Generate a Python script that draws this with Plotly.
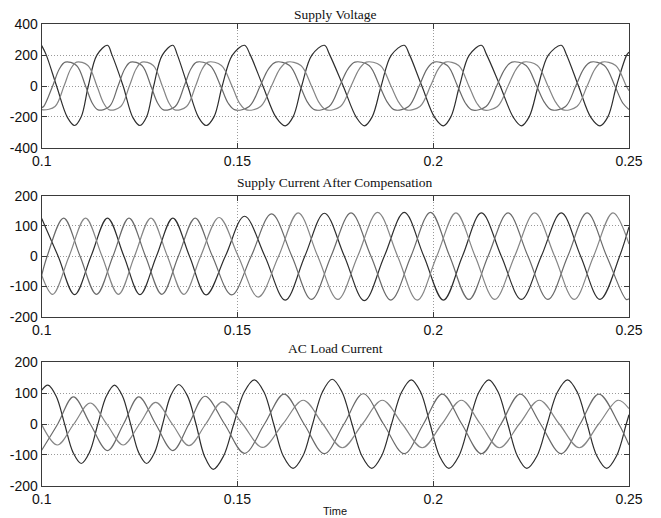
import plotly.graph_objects as go

# ---------------- data (time in ms) ----------------
# Supply voltage, phase drawn dark
t_va = [100.0, 101.1, 103.8, 106.6, 108.4, 110.1, 111.9, 114.1, 116.8, 117.9, 120.8, 123.3, 125.1,
        126.8, 128.6, 130.8, 133.5, 134.6, 137.3, 140.1, 142.0, 144.0, 146.1, 148.7, 151.8, 153.2,
        156.5, 159.9, 162.2, 164.2, 166.4, 169.0, 172.2, 173.5, 177.0, 180.4, 182.4, 184.4, 186.7,
        189.3, 192.6, 193.9, 197.1, 200.4, 202.6, 204.5, 206.7, 209.2, 212.3, 213.6, 217.1, 220.5,
        222.5, 224.5, 226.8, 229.4, 232.7, 234.0, 237.1, 240.3, 242.6, 244.6, 246.8, 249.4, 250.0]
va = [262, 205, 0, -205, -256, -200, 0, 200, 264, 205, 0, -205, -256,
      -200, 0, 200, 264, 205, 0, -205, -256, -200, 0, 200, 264, 205,
      0, -205, -258, -200, 0, 200, 264, 205, 0, -205, -258, -200, 0,
      200, 264, 205, 0, -205, -258, -200, 0, 200, 264, 205, 0, -205,
      -258, -200, 0, 200, 264, 205, 0, -205, -258, -200, 0, 200, 220]

# Supply voltage, first gray phase
t_vb = [100.0, 100.5, 102.8, 104.5, 106.0, 108.9, 111.2, 112.9, 114.4, 117.3, 119.5, 121.2, 122.7,
        125.6, 127.9, 129.6, 131.1, 134.1, 136.4, 138.1, 139.6, 143.0, 145.7, 147.6, 149.4, 153.0,
        155.8, 157.9, 159.8, 163.3, 166.0, 168.0, 169.8, 173.4, 176.1, 178.2, 180.0, 183.6, 186.3,
        188.4, 190.2, 193.7, 196.4, 198.4, 200.2, 203.6, 206.2, 208.2, 209.9, 213.5, 216.2, 218.3,
        220.1, 223.7, 226.4, 228.5, 230.3, 233.8, 236.4, 238.4, 240.2, 243.7, 246.4, 248.4, 250.0]
vb = [-140, -133, 0, 110, 155, 133, 0, -110, -155, -133, 0, 110, 155,
      133, 0, -110, -155, -133, 0, 110, 155, 133, 0, -110, -155, -133,
      0, 110, 155, 133, 0, -110, -155, -133, 0, 110, 155, 133, 0,
      -110, -155, -133, 0, 110, 155, 133, 0, -110, -155, -133, 0, 110,
      155, 133, 0, -110, -155, -133, 0, 110, 155, 133, 0, -110, -152]

# Supply voltage, second gray phase
t_vc = [100.0, 100.5, 103.4, 105.7, 107.4, 108.9, 111.8, 114.1, 115.8, 117.3, 120.2, 122.4, 124.1,
        125.6, 128.5, 130.8, 132.5, 134.0, 137.0, 139.3, 141.0, 142.5, 145.9, 148.6, 150.5, 152.3,
        155.9, 158.7, 160.8, 162.7, 166.2, 168.9, 170.9, 172.7, 176.3, 179.0, 181.1, 182.9, 186.5,
        189.2, 191.3, 193.1, 196.6, 199.3, 201.3, 203.1, 206.5, 209.1, 211.1, 212.8, 216.4, 219.1,
        221.2, 223.0, 226.6, 229.3, 231.4, 233.2, 236.7, 239.3, 241.3, 243.1, 246.6, 249.3, 250.0]
vc = [-150, -155, -133, 0, 110, 155, 133, 0, -110, -155, -133, 0, 110,
      155, 133, 0, -110, -155, -133, 0, 110, 155, 133, 0, -110, -155,
      -133, 0, 110, 155, 133, 0, -110, -155, -133, 0, 110, 155, 133,
      0, -110, -155, -133, 0, 110, 155, 133, 0, -110, -155, -133, 0,
      110, 155, 133, 0, -110, -155, -133, 0, 110, 155, 133, 0, -30]

# Supply current after compensation
t_ia = [100.0, 104.2, 108.4, 112.6, 116.8, 121.0, 125.1, 129.3, 133.5, 137.75, 142.0, 146.9, 151.8,
        157.0, 162.2, 167.2, 172.2, 177.3, 182.4, 187.5, 192.6, 197.6, 202.6, 207.45, 212.3, 217.4,
        222.5, 227.6, 232.7, 237.65, 242.6, 247.6, 250.0]
ia = [125, 0, -127, 0, 126, 0, -127, 0, 126, 0, -128, 0, 132,
      0, -145, 0, 142, 0, -147, 0, 145, 0, -145, 0, 143, 0,
      -143, 0, 143, 0, -143, 0, 97]

t_ib = [100.0, 101.4, 105.6, 109.8, 114.0, 118.2, 122.3, 126.5, 130.7, 134.9, 139.2, 143.6, 148.5,
        153.5, 158.7, 163.9, 168.9, 173.9, 179.0, 184.1, 189.2, 194.3, 199.3, 204.2, 209.1, 214.0,
        219.1, 224.2, 229.3, 234.35, 239.3, 244.3, 249.3, 250.0]
ib = [-63, 0, 126, 0, -126, 0, 126, 0, -126, 0, 126, 0, -128,
      0, 140, 0, -143, 0, 143, 0, -145, 0, 145, 0, -143, 0,
      143, 0, -143, 0, 143, 0, -143, -141]

t_ic = [100.0, 102.8, 107.0, 111.2, 115.4, 119.6, 123.7, 127.9, 132.1, 136.3, 140.6, 145.3, 150.2,
        155.3, 160.5, 165.5, 170.5, 175.6, 180.7, 185.8, 190.9, 195.9, 200.9, 205.8, 210.7, 215.7,
        220.8, 225.9, 231.0, 236.0, 240.95, 245.9, 250.0]
ic = [-63, -126, 0, 126, 0, -126, 0, 126, 0, -126, 0, 128, 0,
      -135, 0, 143, 0, -143, 0, 145, 0, -145, 0, 143, 0, -143,
      0, 143, 0, -143, 0, 143, 40]

# AC load current
t_la = [100.0, 101.6, 103.7, 105.85, 108.0, 110.1, 112.2, 114.35, 116.5, 118.6, 120.65, 122.7, 124.75,
        126.8, 128.85, 130.9, 132.95, 135.0, 137.2, 139.4, 141.6, 143.8, 146.4, 149.05, 151.7, 154.3,
        156.8, 159.25, 161.7, 164.2, 166.7, 169.2, 171.7, 174.2, 176.7, 179.25, 181.8, 184.3, 186.8,
        189.35, 191.9, 194.4, 196.8, 199.2, 201.6, 204.0, 206.55, 209.1, 211.65, 214.2, 216.6, 219.05,
        221.5, 223.9, 226.5, 229.1, 231.7, 234.3, 236.8, 239.3, 241.8, 244.3, 246.8, 249.3, 250.0]
la = [110, 126, 90, 0, -92, -128, -92, 0, 90, 126, 90, 0, -92,
      -128, -92, 0, 92, 128, 92, 0, -105, -147, -105, 0, 103, 143,
      103, 0, -104, -144, -104, 0, 104, 145, 104, 0, -104, -144, -104,
      0, 103, 143, 103, 0, -104, -144, -104, 0, 103, 143, 103, 0,
      -104, -144, -104, 0, 103, 143, 103, 0, -104, -144, -104, 0, 30]

t_lb = [100.0, 104.1, 108.1, 112.4, 116.8, 120.9, 124.8, 129.1, 133.5, 137.6, 141.7, 146.7, 151.8,
        156.9, 161.9, 167.0, 172.2, 177.2, 182.1, 187.3, 192.6, 197.5, 202.3, 207.3, 212.3, 217.3,
        222.2, 227.4, 232.7, 237.5, 242.3, 247.4, 250.0]
lb = [-85, 0, 88, 0, -86, 0, 88, 0, -86, 0, 90, 0, -95,
      0, 97, 0, -96, 0, 98, 0, -96, 0, 97, 0, -96, 0,
      97, 0, -96, 0, 97, 0, -68]

t_lc = [100.0, 104.0, 108.2, 112.4, 116.6, 120.8, 125.0, 129.1, 133.35, 137.6, 141.9, 146.2, 151.3,
        156.4, 161.6, 166.8, 171.8, 176.8, 181.9, 187.0, 192.1, 197.2, 202.2, 207.2, 212.05, 216.9,
        222.0, 227.1, 232.2, 237.3, 242.25, 247.2, 250.0]
lc = [-2, -68, 0, 68, 0, -68, 0, 70, 0, -70, 0, 72, 0,
      -76, 0, 77, 0, -77, 0, 77, 0, -77, 0, 77, 0, -77,
      0, 77, 0, -77, 0, 77, 50]

titles = ["Supply Voltage", "Supply Current After Compensation", "AC Load Current"]
x_ticks = [0.1, 0.15, 0.2, 0.25]
x_ticktext = ["0.1", "0.15", "0.2", "0.25"]
y_ticks_v = [-400, -200, 0, 200, 400]
y_ticks_i = [-200, -100, 0, 100, 200]
x_label = "Time"

# ---------------- figure ----------------
DARK = "#2e2e2e"
GRAY1 = "#6a6a6a"
GRAY2 = "#858585"

W, H = 661, 518
OFF = 8  # page offset of the plot div

def sec(ts):
    return [t / 1000.0 for t in ts]

panels = [
    [(t_va, va, DARK), (t_vb, vb, GRAY1), (t_vc, vc, GRAY2)],
    [(t_ia, ia, DARK), (t_ib, ib, GRAY1), (t_ic, ic, GRAY2)],
    [(t_la, la, DARK), (t_lb, lb, GRAY1), (t_lc, lc, GRAY2)],
]

fig = go.Figure()
for k, panel in enumerate(panels):
    ax = "" if k == 0 else str(k + 1)
    for ts, vs, col in panel:
        fig.add_trace(go.Scatter(
            x=sec(ts), y=vs, mode="lines", xaxis="x" + ax, yaxis="y" + ax,
            line=dict(color=col, width=1.2, shape="spline", smoothing=1.0),
            showlegend=False, hoverinfo="skip"))

def px_x(p):
    return (p - OFF) / W

def px_y(p):
    return 1 - (p - OFF) / H

x_dom = [px_x(41.7), px_x(629)]
y_doms = [[px_y(147.7), px_y(24.3)],
          [px_y(316.7), px_y(195.7)],
          [px_y(485.7), px_y(362.3)]]

tickfont = dict(family="Liberation Sans, Arial, sans-serif", size=14, color="#111111")
common_axis = dict(showline=True, linecolor="#3a3a3a", linewidth=1, mirror="ticks",
                   ticks="inside", ticklen=5, tickcolor="#3a3a3a", tickwidth=1,
                   showgrid=True, gridcolor="#9a9a9a", gridwidth=1, griddash="1px,2px",
                   zeroline=False, tickfont=tickfont, automargin=False)

layout = dict(width=W, height=H, paper_bgcolor="white", plot_bgcolor="white",
              margin=dict(l=0, r=0, t=0, b=0, autoexpand=False), showlegend=False)
for k in range(3):
    ax = "" if k == 0 else str(k + 1)
    yt = y_ticks_v if k == 0 else y_ticks_i
    layout["xaxis" + ax] = dict(common_axis, domain=x_dom, range=[0.1, 0.25],
                                tickvals=x_ticks, ticktext=x_ticktext,
                                anchor="y" + ax)
    layout["yaxis" + ax] = dict(common_axis, domain=y_doms[k], range=[yt[0], yt[-1]],
                                tickvals=yt, ticktext=[str(v) for v in yt],
                                anchor="x" + ax)
fig.update_layout(**layout)

title_y = [15, 182, 348]
xc = (x_dom[0] + x_dom[1]) / 2
for k, ttl in enumerate(titles):
    fig.add_annotation(text=ttl, xref="paper", yref="paper", x=xc,
                       y=px_y(title_y[k]), xanchor="center", yanchor="middle",
                       showarrow=False,
                       font=dict(family="Liberation Serif, Times New Roman, serif", size=13.5,
                                 color="#111111"))
fig.add_annotation(text=x_label, xref="paper", yref="paper", x=xc,
                   y=px_y(510.5), xanchor="center", yanchor="middle", showarrow=False,
                   font=dict(family="Liberation Sans, Arial, sans-serif", size=11, color="#111111"))

fig.write_html("out.html")
